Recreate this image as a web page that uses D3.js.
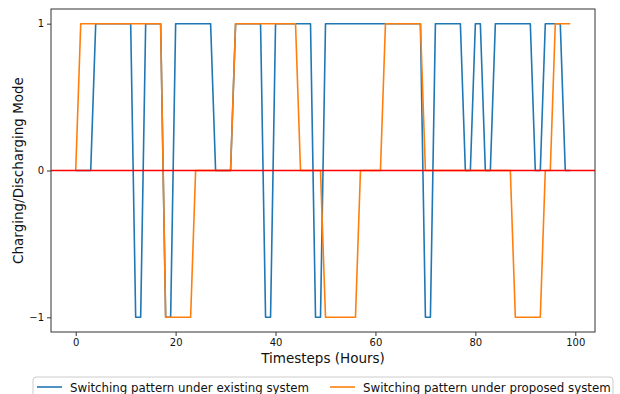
<!DOCTYPE html>
<html>
<head>
<meta charset="utf-8">
<script src="https://d3js.org/d3.v7.min.js"></script>
<style>
  body { margin: 0; background: white; }
  text { font-family: "DejaVu Sans", sans-serif; fill: #111; }
</style>
</head>
<body>
<div id="chart"></div>
<script>
// hourly mode readings, hours 0..99
const existing = [
  0, 0, 0, 0, 1, 1, 1, 1, 1, 1,
  1, 1, -1, -1, 1, 1, 1, 1, -1, -1,
  1, 1, 1, 1, 1, 1, 1, 1, 0, 0,
  0, 0, 1, 1, 1, 1, 1, 1, -1, -1,
  1, 1, 1, 1, 1, 1, 1, 1, -1, -1,
  1, 1, 1, 1, 1, 1, 1, 1, 1, 1,
  1, 1, 1, 1, 1, 1, 1, 1, 1, 1,
  -1, -1, 1, 1, 1, 1, 1, 1, 0, 0,
  1, 1, 0, 0, 1, 1, 1, 1, 1, 1,
  1, 1, 0, 0, 1, 1, 1, 1, 0, 0
];
const proposed = [
  0, 1, 1, 1, 1, 1, 1, 1, 1, 1,
  1, 1, 1, 1, 1, 1, 1, 1, -1, -1,
  -1, -1, -1, -1, 0, 0, 0, 0, 0, 0,
  0, 0, 1, 1, 1, 1, 1, 1, 1, 1,
  1, 1, 1, 1, 1, 0, 0, 0, 0, 0,
  -1, -1, -1, -1, -1, -1, -1, 0, 0, 0,
  0, 0, 1, 1, 1, 1, 1, 1, 1, 1,
  0, 0, 0, 0, 0, 0, 0, 0, 0, 0,
  0, 0, 0, 0, 0, 0, 0, 0, -1, -1,
  -1, -1, -1, -1, 0, 0, 1, 1, 1, 1
];
const xTicks = [0, 20, 40, 60, 80, 100];
const yTicks = [-1, 0, 1];
const seriesNames = ["Switching pattern under existing system", "Switching pattern under proposed system"];
const seriesColors = ["#1f77b4", "#ff7f0e"];

const W = 620, H = 394;
const mLeft = 51, mRight = 595, mTop = 9, mBottom = 332;

const svg = d3.select("#chart").append("svg")
  .attr("width", W).attr("height", H);

const n = existing.length - 1;
const x = d3.scaleLinear().domain([-0.05 * n, n * 1.05]).range([mLeft, mRight]);
const y = d3.scaleLinear().domain([-1.1, 1.1]).range([mBottom, mTop]);

const line = d3.line().x((d, i) => x(i)).y(d => y(d));

svg.append("g").attr("fill", "none").attr("stroke-width", 1.6)
  .selectAll("path")
  .data([existing, proposed])
  .join("path")
  .attr("stroke", (d, i) => seriesColors[i])
  .attr("stroke-linejoin", "round")
  .attr("d", line);

// zero line across the whole axes
svg.append("line")
  .attr("x1", mLeft).attr("x2", mRight)
  .attr("y1", y(0)).attr("y2", y(0))
  .attr("stroke", "red").attr("stroke-width", 1.6);

// frame
svg.append("rect")
  .attr("x", mLeft).attr("y", mTop)
  .attr("width", mRight - mLeft).attr("height", mBottom - mTop)
  .attr("fill", "none").attr("stroke", "#333").attr("stroke-width", 1);

const xAxis = svg.append("g")
  .attr("transform", "translate(0," + mBottom + ")")
  .call(d3.axisBottom(x).tickValues(xTicks).tickSize(4).tickPadding(3));
const yAxis = svg.append("g")
  .attr("transform", "translate(" + mLeft + ",0)")
  .call(d3.axisLeft(y).tickValues(yTicks).tickSize(4).tickPadding(3)
    .tickFormat(d => d < 0 ? "\u2212" + Math.abs(d) : d));
[xAxis, yAxis].forEach(g => {
  g.select(".domain").remove();
  g.selectAll("line").attr("stroke", "#333");
  g.selectAll("text").style("font-size", "10px").attr("fill", "#111");
});

svg.append("text")
  .attr("x", (mLeft + mRight) / 2).attr("y", 363)
  .attr("text-anchor", "middle")
  .style("font-size", "13.5px")
  .text("Timesteps (Hours)");

svg.append("text")
  .attr("transform", "translate(23," + ((mTop + mBottom) / 2) + ") rotate(-90)")
  .attr("text-anchor", "middle")
  .style("font-size", "13.5px")
  .text("Charging/Discharging Mode");

// legend
const lg = svg.append("g");
lg.append("rect")
  .attr("x", 33).attr("y", 377).attr("width", 580).attr("height", 24)
  .attr("rx", 3).attr("fill", "white").attr("stroke", "#ccc");
const lx = [37, 330];
seriesNames.forEach((name, i) => {
  lg.append("line")
    .attr("x1", lx[i]).attr("x2", lx[i] + 25)
    .attr("y1", 387).attr("y2", 387)
    .attr("stroke", seriesColors[i]).attr("stroke-width", 1.6);
  lg.append("text")
    .attr("x", lx[i] + 33).attr("y", 391.5)
    .style("font-size", "11.8px")
    .text(name);
});
</script>
</body>
</html>
